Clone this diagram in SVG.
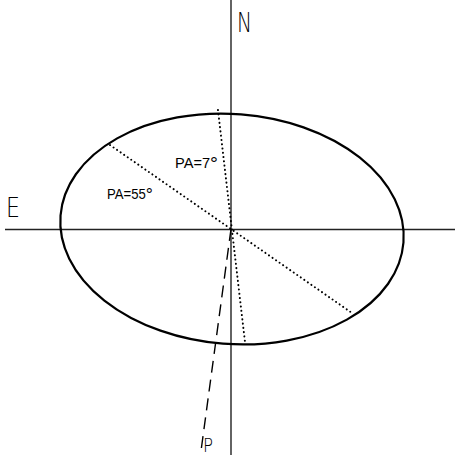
<svg xmlns="http://www.w3.org/2000/svg" width="455" height="459" viewBox="0 0 455 459">
<style>
.axis{stroke:#222;stroke-width:1.4;fill:none}
.ell{stroke:#000;stroke-width:2.2;fill:none}
.dot{stroke:#000;stroke-width:2;stroke-dasharray:0.1 4.2;stroke-linecap:round;fill:none}
.dash{stroke:#000;stroke-width:1.4;stroke-dasharray:12 7;fill:none}
.lab{font-family:"Liberation Sans",Arial,sans-serif;fill:#000}
.big{font-family:"DejaVu Sans","Liberation Sans",sans-serif;font-weight:300;fill:#000}
</style>
<rect width="455" height="459" fill="#fff"/>
<g id="connectors">
<line class="axis" x1="231" y1="0" x2="231" y2="455"/>
<line class="axis" x1="5" y1="229.5" x2="455" y2="229.5"/>
<line class="dot" x1="110" y1="145" x2="352" y2="313"/>
<line class="dot" x1="218" y1="110" x2="245" y2="342"/>
<line class="dash" x1="231" y1="229" x2="201" y2="451"/>
</g>
<g id="ellipse">
<ellipse class="ell" cx="232" cy="229" rx="172" ry="115" transform="rotate(4.5 232 229)"/>
</g>
<g id="label-N"><text class="big" x="237" y="32" font-size="27" textLength="15" lengthAdjust="spacingAndGlyphs">N</text></g>
<g id="label-E"><text class="big" x="6" y="217" font-size="27" textLength="14" lengthAdjust="spacingAndGlyphs">E</text></g>
<g id="label-P"><text class="big" x="203" y="452" font-size="19" textLength="10" lengthAdjust="spacingAndGlyphs">P</text></g>
<g id="label-PA7"><text class="lab" x="175" y="168" font-size="14" textLength="43" lengthAdjust="spacingAndGlyphs">PA=7<tspan font-size="19" dy="2">°</tspan></text></g>
<g id="label-PA55"><text class="lab" x="107" y="199" font-size="14" textLength="46" lengthAdjust="spacingAndGlyphs">PA=55<tspan font-size="19" dy="2">°</tspan></text></g>
</svg>
